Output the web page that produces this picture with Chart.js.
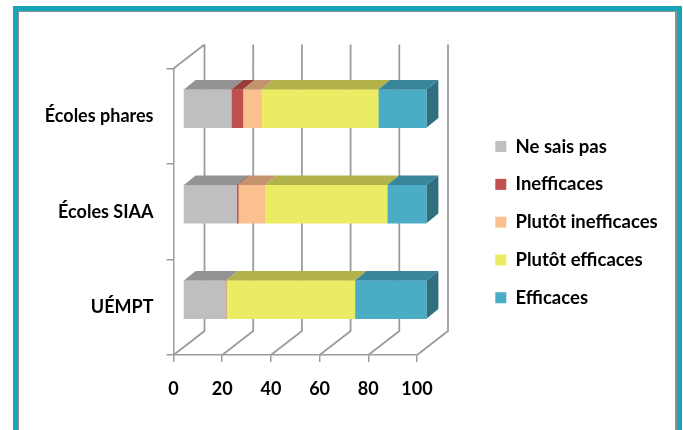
<!DOCTYPE html>
<html lang="fr">
<head>
  <meta charset="UTF-8">
  <title>Efficacité</title>
  <script src="https://cdn.jsdelivr.net/npm/chart.js"></script>
  <style>
    html, body { margin: 0; background: #fff; overflow: hidden; }
    #wrap { position: relative; width: 683px; height: 430px; overflow: hidden; }
    #frame { position: absolute; left: 13px; top: 6px; width: 659px; height: 440px; border: 5px solid #17a6b8; box-shadow: inset 1px 1px 0 #8f8f8f, inset -2px 0 0 #8f8f8f; }
    #chart { position: absolute; left: 0; top: 0; }
  </style>
</head>
<body>
<div id="wrap">
  <div id="frame"></div>
  <canvas id="chart" width="683" height="430"></canvas>
</div>

<script>
    const categories = ['Écoles phares', 'Écoles SIAA', 'UÉMPT'];
    const neSaisPas = [19.8, 22, 17.6];
    const inefficaces = [4.7, 0.6, 0];
    const plutotInefficaces = [7.6, 10.9, 0];
    const plutotEfficaces = [48, 50.3, 52.9];
    const efficaces = [19.9, 16.2, 29.5];

    const fontName = 'Lato, "Open Sans", sans-serif';
    const gridColor = '#9c9c9c';
    // decalage de la profondeur 3D
    const barShift = { x: 9.7, y: -7.7 };
    const barDepth = { x: 11.7, y: -9.5 };
    const wallDepth = { x: 31, y: -24 };

    const faces = [
        { front: '#bfbfbf', top: '#939393' },
        { front: '#c0504d', top: '#993d3a' },
        { front: '#fac090', top: '#c4936e' },
        { front: '#ebeb64', top: '#b3b34c' },
        { front: '#4bacc6', top: '#39859a' }
    ];
    const sideColor = '#2f6f80';

    const walls3d = {
        id: 'walls3d',
        afterLayout(chart) {
            const l = chart.legend;
            const w = l.right - l.left;
            l.left = 476;
            l.right = l.left + w + 60;
            l.width = l.right - l.left;
            l.top = 118;
        },
        beforeDatasetsDraw(chart) {
            const ctx = chart.ctx;
            const xs = chart.scales.x;
            const a = chart.chartArea;
            ctx.save();
            ctx.strokeStyle = gridColor;
            ctx.lineWidth = 1.8;
            ctx.beginPath();
            // sol et murs du fond
            xs.ticks.forEach(t => {
                const px = xs.getPixelForValue(t.value);
                ctx.moveTo(px, a.bottom);
                ctx.lineTo(px + wallDepth.x, a.bottom + wallDepth.y);
                ctx.lineTo(px + wallDepth.x, a.top + wallDepth.y);
            });
            ctx.moveTo(a.left, a.top);
            ctx.lineTo(a.left + wallDepth.x, a.top + wallDepth.y);
            ctx.stroke();
            ctx.restore();

            ctx.save();
            ctx.translate(barShift.x, barShift.y);
        },
        afterDatasetsDraw(chart) {
            const ctx = chart.ctx;
            chart.data.datasets.forEach((ds, i) => {
                chart.getDatasetMeta(i).data.forEach(bar => {
                    const top = bar.y - bar.height / 2;
                    const left = Math.min(bar.base, bar.x);
                    const right = Math.max(bar.base, bar.x);
                    if (right - left < 0.01) return;
                    ctx.fillStyle = faces[i].top;
                    ctx.beginPath();
                    ctx.moveTo(left, top);
                    ctx.lineTo(left + barDepth.x, top + barDepth.y);
                    ctx.lineTo(right + barDepth.x, top + barDepth.y);
                    ctx.lineTo(right, top);
                    ctx.closePath();
                    ctx.fill();
                });
            });
            // face droite de la derniere serie
            const last = chart.getDatasetMeta(chart.data.datasets.length - 1);
            last.data.forEach(bar => {
                const top = bar.y - bar.height / 2;
                ctx.fillStyle = sideColor;
                ctx.beginPath();
                ctx.moveTo(bar.x, top);
                ctx.lineTo(bar.x + barDepth.x, top + barDepth.y);
                ctx.lineTo(bar.x + barDepth.x, top + bar.height + barDepth.y);
                ctx.lineTo(bar.x, top + bar.height);
                ctx.closePath();
                ctx.fill();
            });
            ctx.restore();
        }
    };

    const names = ['Ne sais pas', 'Inefficaces', 'Plutôt inefficaces', 'Plutôt efficaces', 'Efficaces'];
    const values = [neSaisPas, inefficaces, plutotInefficaces, plutotEfficaces, efficaces];

    new Chart(document.getElementById('chart'), {
        type: 'bar',
        data: {
            labels: categories,
            datasets: names.map((n, i) => ({
                label: n,
                data: values[i],
                backgroundColor: faces[i].front,
                borderWidth: 0,
                barThickness: 38
            }))
        },
        plugins: [walls3d],
        options: {
            indexAxis: 'y',
            responsive: false,
            animation: false,
            layout: { padding: { top: 68.5, right: 127 } },
            plugins: {
                title: { display: false },
                tooltip: { enabled: false },
                legend: {
                    position: 'right',
                    align: 'start',
                    labels: {
                        boxWidth: 11,
                        boxHeight: 11,
                        padding: 19.3,
                        color: '#000',
                        font: { family: fontName, size: 18.5, weight: 'bold' }
                    }
                }
            },
            scales: {
                x: {
                    stacked: true,
                    min: 0,
                    max: 100,
                    afterFit(scale) { scale.height = 75; },
                    border: { color: gridColor, width: 1.5 },
                    grid: { drawOnChartArea: false, tickLength: 7, color: gridColor, lineWidth: 1.5 },
                    ticks: { stepSize: 20, padding: 16, color: '#000', maxRotation: 0, font: { family: fontName, size: 18, weight: 'bold' } }
                },
                y: {
                    stacked: true,
                    afterFit(scale) { scale.width = 173.5; },
                    border: { color: gridColor, width: 1.5 },
                    grid: { drawOnChartArea: false, tickLength: 7, color: gridColor, lineWidth: 1.5 },
                    ticks: { padding: 13, color: '#000', font: { family: fontName, size: 18, weight: 'bold' } }
                }
            }
        }
    });
</script>
</body>
</html>
